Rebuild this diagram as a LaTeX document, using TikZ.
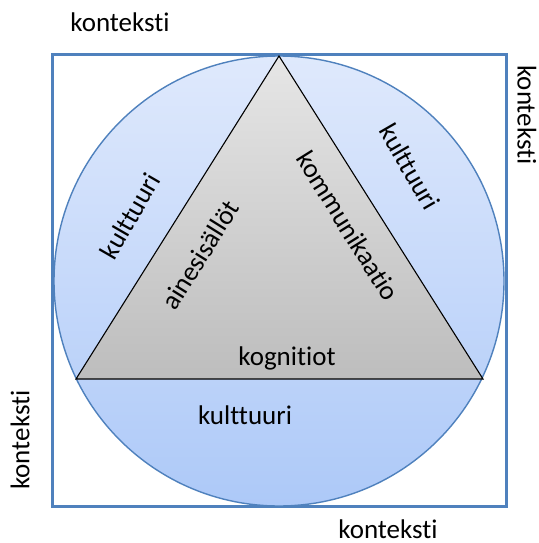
\documentclass[tikz,border=0pt]{standalone}
\usepackage{fontspec}
\setmainfont{Carlito}[Ligatures=NoCommon]
\definecolor{frameblue}{HTML}{4F81BD}
\definecolor{circtop}{HTML}{DFE9FC}
\definecolor{circbot}{HTML}{ADC9F8}
\definecolor{tritop}{HTML}{E6E6E6}
\definecolor{tribot}{HTML}{BDBDBD}
\tikzset{
  lbl/.style={font=\fontsize{27}{32}\selectfont, text=black, inner sep=0pt},
  frame/.style={draw=frameblue, line width=3pt, fill=white},
  ring/.style={top color=circtop, bottom color=circbot},
  ringline/.style={draw=frameblue, line width=1.4pt},
  tri/.style={top color=tritop, bottom color=tribot},
  triline/.style={draw=black, line width=1.1pt, line join=miter}
}
\begin{document}
\begin{tikzpicture}[x=1pt, y=-1pt]
  \useasboundingbox (0,0) rectangle (538,543);
  % outer context frame
  \coordinate (f1) at (52,55);
  \coordinate (f2) at (506,506);
  \draw[frame] (f1) rectangle (f2);
  % culture circle
  \coordinate (c) at (279,281);
  \shade[ring] (c) circle (225pt);
  \draw[ringline] (c) circle (225pt);
  % triangle
  \coordinate (apex) at (279,56);
  \coordinate (bl) at (76,379);
  \coordinate (br) at (483,379);
  \shade[tri] (apex) -- (bl) -- (br) -- cycle;
  \draw[triline] (apex) -- (bl) -- (br) -- cycle;
  % labels
  \node[lbl] (kTop) at (120,22) {konteksti};
  \node[lbl, rotate=-90] (kRight) at (527,115) {konteksti};
  \node[lbl, rotate=90] (kLeft) at (20,440) {konteksti};
  \node[lbl] (kBot) at (388,529) {konteksti};
  \node[lbl] (kog) at (287,358) {kognitiot};
  \node[lbl] (kulB) at (245,415) {kulttuuri};
  \node[lbl, rotate=60] (kulL) at (130,216) {kulttuuri};
  \node[lbl, rotate=-60] (kulR) at (410,167) {kulttuuri};
  \node[lbl, rotate=58] (aines) at (200,255) {ainesisällöt};
  \node[lbl, rotate=-58] (komm) at (348,226) {kommunikaatio};
\end{tikzpicture}
\end{document}
